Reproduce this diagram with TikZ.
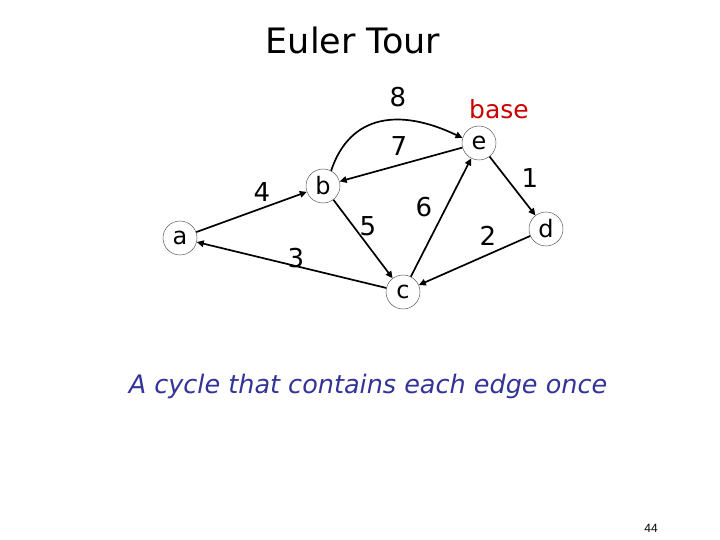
\documentclass[tikz,border=0pt]{standalone}
\usepackage{fontspec}
\setmainfont{DejaVu Sans}
\newfontfamily\arialfont{Liberation Sans}
\usetikzlibrary{arrows.meta}
\definecolor{basered}{RGB}{204,0,0}
\definecolor{cycblue}{RGB}{51,51,153}
\begin{document}
\begin{tikzpicture}[x=1pt,y=-1pt,
  vtx/.style={circle,draw=black!65,line width=0.5pt,minimum size=34pt,inner sep=0pt,font=\fontsize{24}{26}\selectfont},
  edge/.style={line width=1.7pt,-{Triangle[length=7pt,width=6.5pt]}},
  elabel/.style={font=\fontsize{26}{28}\selectfont}]
\useasboundingbox (0,0) rectangle (720,540);
\node (title) at (353,40) {\fontsize{35}{37}\selectfont Euler Tour};
\node[vtx] (a) at (180,238) {a};
\node[vtx] (b) at (323,186) {b};
\node[vtx] (c) at (403,292) {c};
\node[vtx] (e) at (479,143) {e};
\node[vtx] (d) at (546,229) {d};
\node[font=\fontsize{25}{27}\selectfont,text=basered] (base) at (499,109) {base};
\draw[edge] (a) -- (b);
\draw[edge] (b) -- (c);
\draw[edge] (c) -- (a);
\draw[edge] (c) -- (e);
\draw[edge] (e) -- (b);
\draw[edge] (e) -- (d);
\draw[edge] (d) -- (c);
\draw[edge] (b.62) .. controls (350,114) and (400,108) .. (e.163);
\node[elabel] (l8) at (398,97) {8};
\node[elabel] (l7) at (399,146) {7};
\node[elabel] (l4) at (262,192) {4};
\node[elabel] (l5) at (368,226) {5};
\node[elabel] (l6) at (424,207) {6};
\node[elabel] (l3) at (296,258) {3};
\node[elabel] (l2) at (488,236) {2};
\node[elabel] (l1) at (530,178) {1};
\node[text=cycblue,font=\fontsize{25.5}{27}\selectfont\itshape] (cap) at (368,386) {A cycle that contains each edge once};
\node[font=\arialfont\fontsize{12}{14}\selectfont] (pg) at (651,528) {44};
\end{tikzpicture}
\end{document}
